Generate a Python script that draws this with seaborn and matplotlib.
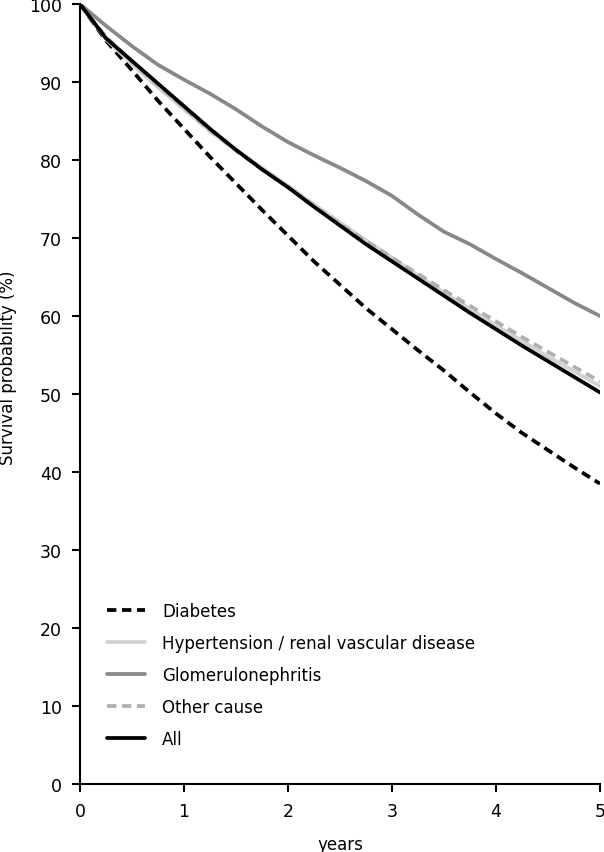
import numpy as np
import pandas as pd
import matplotlib
matplotlib.use("Agg")
import matplotlib.pyplot as plt
import seaborn as sns

# Survival curves (years, %)
years = [0, 0.25, 0.5, 0.75, 1, 1.25, 1.5, 1.75, 2, 2.25, 2.5,
         2.75, 3, 3.25, 3.5, 3.75, 4, 4.25, 4.5, 4.75, 5]

diabetes = [100, 95.3, 91.5, 87.6, 84.0, 80.4, 77.0, 73.6, 70.3, 67.0, 64.0,
            61.0, 58.3, 55.6, 53.0, 50.2, 47.5, 45.0, 42.8, 40.6, 38.5]
hypertension = [100, 95.5, 92.3, 89.3, 86.5, 83.7, 81.3, 79.0, 76.7, 74.3, 72.0,
                69.7, 67.5, 65.2, 63.0, 60.9, 58.8, 56.8, 54.8, 52.9, 51.0]
glomerulo = [100, 97.2, 94.6, 92.2, 90.3, 88.5, 86.5, 84.3, 82.3, 80.6, 79.0,
             77.3, 75.4, 73.0, 70.8, 69.2, 67.3, 65.5, 63.6, 61.7, 60.0]
other = [100, 95.8, 92.6, 89.6, 86.7, 83.8, 81.2, 78.8, 76.5, 74.1, 71.8,
         69.6, 67.5, 65.4, 63.3, 61.3, 59.3, 57.3, 55.4, 53.5, 51.6]
all_causes = [100, 95.6, 92.7, 89.8, 86.9, 84.0, 81.3, 78.8, 76.5, 74.0, 71.6,
              69.2, 67.0, 64.8, 62.6, 60.4, 58.3, 56.2, 54.2, 52.2, 50.2]

groups = ["Diabetes", "Hypertension / renal vascular disease",
          "Glomerulonephritis", "Other cause", "All"]
series = [diabetes, hypertension, glomerulo, other, all_causes]

df = pd.concat([pd.DataFrame({"years": years, "surv": s, "group": g})
                for g, s in zip(groups, series)], ignore_index=True)

palette = {"Diabetes": "black",
           "Hypertension / renal vascular disease": "#d2d2d2",
           "Glomerulonephritis": "#888888",
           "Other cause": "#b0b0b0",
           "All": "black"}
dashes = {"Diabetes": (2.5, 1.5),
          "Hypertension / renal vascular disease": "",
          "Glomerulonephritis": "",
          "Other cause": (2.5, 1.5),
          "All": ""}

sns.set_style("ticks")
plt.rcParams["font.family"] = ["DejaVu Sans"]
plt.rcParams["text.color"] = "black"
plt.rcParams["axes.labelcolor"] = "black"

fig = plt.figure(figsize=(6.04, 8.53), dpi=100)
ax = fig.add_axes([80 / 604, 1 - 785 / 853, 520 / 604, 780 / 853])

sns.lineplot(data=df, x="years", y="surv", hue="group", style="group",
             hue_order=groups, style_order=groups, palette=palette,
             dashes=dashes, linewidth=2.7, ax=ax)

ax.set_xlim(0, 5)
ax.set_ylim(0, 100)
ax.set_xticks(range(0, 6))
ax.set_yticks(range(0, 101, 10))
ax.tick_params(axis="both", labelsize=12.5, width=1.5, length=6, pad=7,
               colors="black")
for sp in ["left", "bottom"]:
    ax.spines[sp].set_linewidth(1.5)
    ax.spines[sp].set_color("black")
sns.despine(ax=ax)

ax.set_xlabel("years", fontsize=12)
ax.set_ylabel("Survival probability (%)", fontsize=12)
ax.xaxis.set_label_coords(0.5, -0.066)
ax.yaxis.set_label_coords(-0.122, 0.535)

handles, labels = ax.get_legend_handles_labels()
for h in handles:
    h.set_linewidth(2.7)
ax.legend(handles, labels, loc="upper left", bbox_to_anchor=(0.052, 0.233),
          frameon=False, fontsize=12, handlelength=2.3, handletextpad=1.0,
          labelspacing=0.84, borderpad=0, borderaxespad=0)

fig.savefig("out.png", dpi=100)
